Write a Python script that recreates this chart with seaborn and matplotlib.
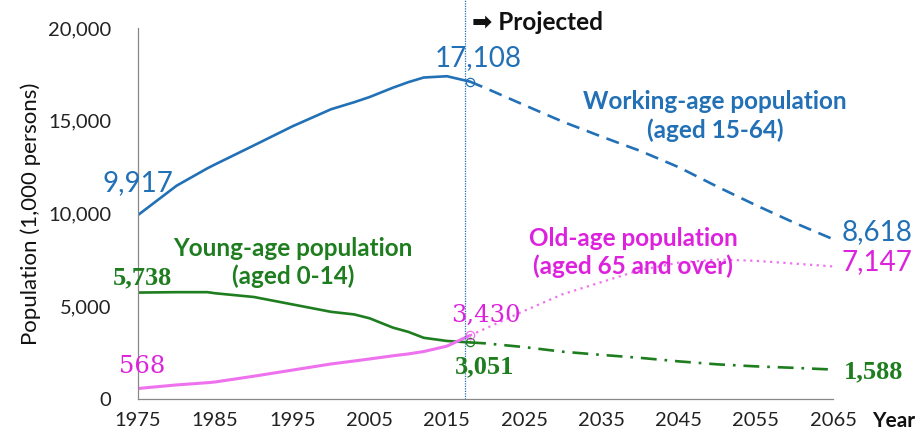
import pandas as pd
import matplotlib
matplotlib.use("Agg")
import matplotlib.pyplot as plt
import seaborn as sns

# ---- data (1,000 persons) ----
hist_years = [1975, 1980, 1984, 1985, 1990, 1995, 2000, 2003, 2005, 2008, 2010, 2012, 2015, 2018]
hist_working = [9917, 11500, 12440, 12650, 13670, 14700, 15620, 16000, 16280, 16780, 17080, 17330, 17400, 17108]
hist_young = [5738, 5760, 5760, 5700, 5500, 5100, 4700, 4560, 4350, 3850, 3620, 3300, 3130, 3051]
hist_old = [568, 760, 880, 920, 1230, 1560, 1890, 2050, 2160, 2330, 2430, 2560, 2850, 3430]

proj_years = [2018, 2020, 2025, 2030, 2035, 2040, 2045, 2050, 2055, 2060, 2065]
proj_working = [17108, 16760, 15850, 14950, 14150, 13380, 12500, 11450, 10450, 9500, 8618]
proj_young = [3051, 3000, 2800, 2550, 2380, 2220, 2030, 1870, 1760, 1680, 1588]
proj_old = [3430, 3800, 4750, 5650, 6300, 6950, 7350, 7520, 7450, 7300, 7147]

BLUE = '#2270B6'
GREEN = '#1E7D1E'
PINK_LINE = '#EE72EE'
PINK_TEXT = '#DD22DD'

sns.set_theme(style="white")
plt.rcParams['font.family'] = ['Lato', 'DejaVu Sans']

hist = pd.DataFrame({'year': hist_years, 'working': hist_working,
                     'young': hist_young, 'old': hist_old})
proj = pd.DataFrame({'year': proj_years, 'working': proj_working,
                     'young': proj_young, 'old': proj_old})

fig = plt.figure(figsize=(9.17, 4.34), dpi=100)
ax = fig.add_axes([0.1505, 0.0806, 0.7579, 0.8549])

# historical (solid)
sns.lineplot(data=hist, x='year', y='working', color=BLUE, lw=1.9, ax=ax)
sns.lineplot(data=hist, x='year', y='young', color=GREEN, lw=1.9, ax=ax)
sns.lineplot(data=hist, x='year', y='old', color=PINK_LINE, lw=2.2, ax=ax)

# projections
sns.lineplot(data=proj, x='year', y='working', color=BLUE, lw=1.9, ax=ax,
             linestyle=(0, (5, 3)))
sns.lineplot(data=proj, x='year', y='young', color=GREEN, lw=1.9, ax=ax,
             linestyle=(0, (6, 3, 1, 3)))
sns.lineplot(data=proj, x='year', y='old', color=PINK_LINE, lw=1.6, ax=ax,
             linestyle=(0, (1, 2)))

# open circles at base year
for col, c in [('working', BLUE), ('young', GREEN), ('old', PINK_LINE)]:
    ax.plot(proj_years[0], proj[col].iloc[0], 'o', mfc='none', mec=c, ms=6, mew=0.9)

# projection divider
ax.axvline(2017.4, ymin=0, ymax=1.08, color=BLUE, lw=0.9, ls=(0, (1, 1)), clip_on=False)

ax.set_xlim(1975, 2065)
ax.set_ylim(0, 20000)
ax.set_xticks(range(1975, 2066, 5))
ax.set_xticklabels([str(y) if (y - 1975) % 10 == 0 else '' for y in range(1975, 2066, 5)])
ax.set_yticks(range(0, 20001, 5000))
ax.set_yticklabels([f'{v:,}' for v in range(0, 20001, 5000)])
ax.tick_params(direction='in', length=5, width=0.8, color='#888888',
               labelsize=14.5, labelcolor='#222222')
ax.tick_params(axis='x', pad=9)
ax.tick_params(axis='y', pad=19)
for s in ['top', 'right']:
    ax.spines[s].set_visible(False)
for s in ['left', 'bottom']:
    ax.spines[s].set_color('#888888')
    ax.spines[s].set_linewidth(0.9)

ax.set_xlabel('')
ax.set_ylabel('Population (1,000 persons)', fontsize=16, color='#111111', labelpad=5)
fig.text(0.951, 0.03, 'Year', fontsize=15, color='#111111', weight='bold',
         ha='left', va='center')

# value labels
kw = dict(ha='center', va='center', clip_on=False)
sans_lbl = dict(fontsize=20, color=BLUE, **kw)
ax.text(1975, 11650, '9,917', **sans_lbl)
ax.text(2019.0, 18380, '17,108', **sans_lbl)
ax.text(2070.7, 9000, '8,618', **sans_lbl)

serif_green = dict(fontsize=19, color=GREEN, weight='bold', family='Liberation Serif', **kw)
ax.text(1975.6, 6520, '5,738', **serif_green)
ax.text(2019.9, 1730, '3,051', **serif_green)
ax.text(2070.3, 1460, '1,588', **serif_green)

ax.text(1975.5, 1730, '568', fontsize=17.5, color=PINK_TEXT, family='DejaVu Serif', **kw)
ax.text(2020.0, 4530, '3,430', fontsize=17.5, color=PINK_TEXT, family='DejaVu Serif', **kw)
ax.text(2070.7, 7390, '7,147', fontsize=20, color=PINK_TEXT, **kw)

# series labels
lab = dict(fontsize=17.5, weight='bold', ha='center', va='center', linespacing=1.25)
ax.text(2049.7, 15250, 'Working-age population\n(aged 15-64)', color=BLUE, **lab)
ax.text(1995.1, 7350, 'Young-age population\n(aged 0-14)', color=GREEN, **lab)
ax.text(2039.1, 7900, 'Old-age population\n(aged 65 and over)', color=PINK_TEXT, **lab)

ax.text(2018.3, 20320, '\u27a1 Projected', fontsize=17.5, color='#111111',
        weight='bold', ha='left', va='center', clip_on=False)

fig.savefig('out.png', dpi=100, facecolor='white')
